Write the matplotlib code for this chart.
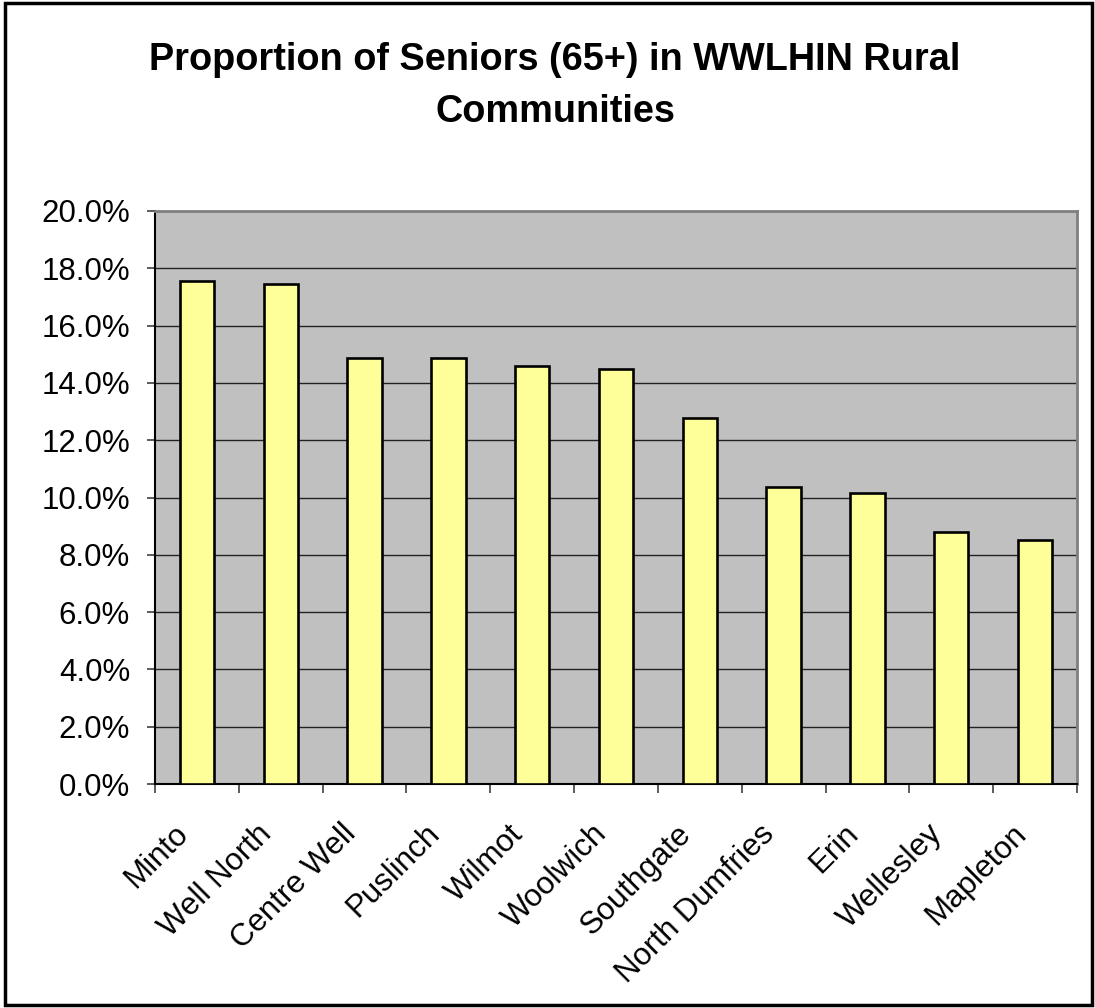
import matplotlib
matplotlib.use('Agg')
import matplotlib.pyplot as plt
import matplotlib.transforms as mtrans
from matplotlib.patches import Rectangle
from matplotlib.ticker import FuncFormatter, MultipleLocator

plt.rcParams['font.family'] = ['Liberation Sans', 'DejaVu Sans']

# data (percent of population 65+)
communities = ['Minto', 'Well North', 'Centre Well', 'Puslinch', 'Wilmot', 'Woolwich',
               'Southgate', 'North Dumfries', 'Erin', 'Wellesley', 'Mapleton']
pct_seniors = [17.55, 17.44, 14.86, 14.86, 14.58, 14.48, 12.77, 10.35, 10.14, 8.80, 8.52]

title = 'Proportion of Seniors (65+) in WWLHIN Rural\nCommunities'

fig = plt.figure(figsize=(10.95, 10.08), dpi=100)
W, H = 1095, 1008

# plot area
ax = fig.add_axes([155 / W, 1 - 784 / H, (1077 - 155) / W, (784 - 211) / H])
ax.set_facecolor('#C0C0C0')

x = list(range(len(communities)))
ax.bar(x, pct_seniors, width=0.41, color='#FFFF99', edgecolor='black',
       linewidth=1.9, zorder=3)

ax.set_xlim(-0.5, len(communities) - 0.5)
ax.set_ylim(0, 20)
ax.yaxis.set_major_locator(MultipleLocator(2))
ax.yaxis.set_major_formatter(FuncFormatter(lambda v, p: f'{v:.1f}%'))
ax.grid(axis='y', color='#222222', linewidth=1.0, zorder=1)
ax.set_axisbelow(True)

# category labels at centres, tick marks between categories
ax.set_xticks(x)
ax.set_xticklabels(communities, rotation=45, ha='right', va='top',
                   rotation_mode='anchor', fontsize=22.5)
ax.set_xticks([i - 0.5 for i in range(len(communities) + 1)], minor=True)
ax.tick_params(axis='x', which='major', length=0, pad=25)
ax.tick_params(axis='x', which='minor', length=6.5, width=1.2, color='#404040', direction='out')
ax.tick_params(axis='y', length=6, width=1.2, color='#404040', pad=12, labelsize=22.5)

offset = mtrans.ScaledTranslation(-0.24, 0, fig.dpi_scale_trans)
for lab in ax.get_xticklabels():
    lab.set_transform(lab.get_transform() + offset)

for side in ['left', 'bottom']:
    ax.spines[side].set_color('black')
    ax.spines[side].set_linewidth(1.5)
for side in ['top', 'right']:
    ax.spines[side].set_color('#808080')
    ax.spines[side].set_linewidth(2)

# title
fig.text(555 / W, 1 - 86 / H, title, ha='center', va='center', fontsize=27.3,
         fontweight='bold', linespacing=1.6)

# outer frame of the chart
fig.add_artist(Rectangle((5 / W, 3 / H), (1092 - 5) / W, (1005 - 3) / H,
                         transform=fig.transFigure, fill=False,
                         edgecolor='black', linewidth=2.5))

fig.savefig('out.png', dpi=100)
